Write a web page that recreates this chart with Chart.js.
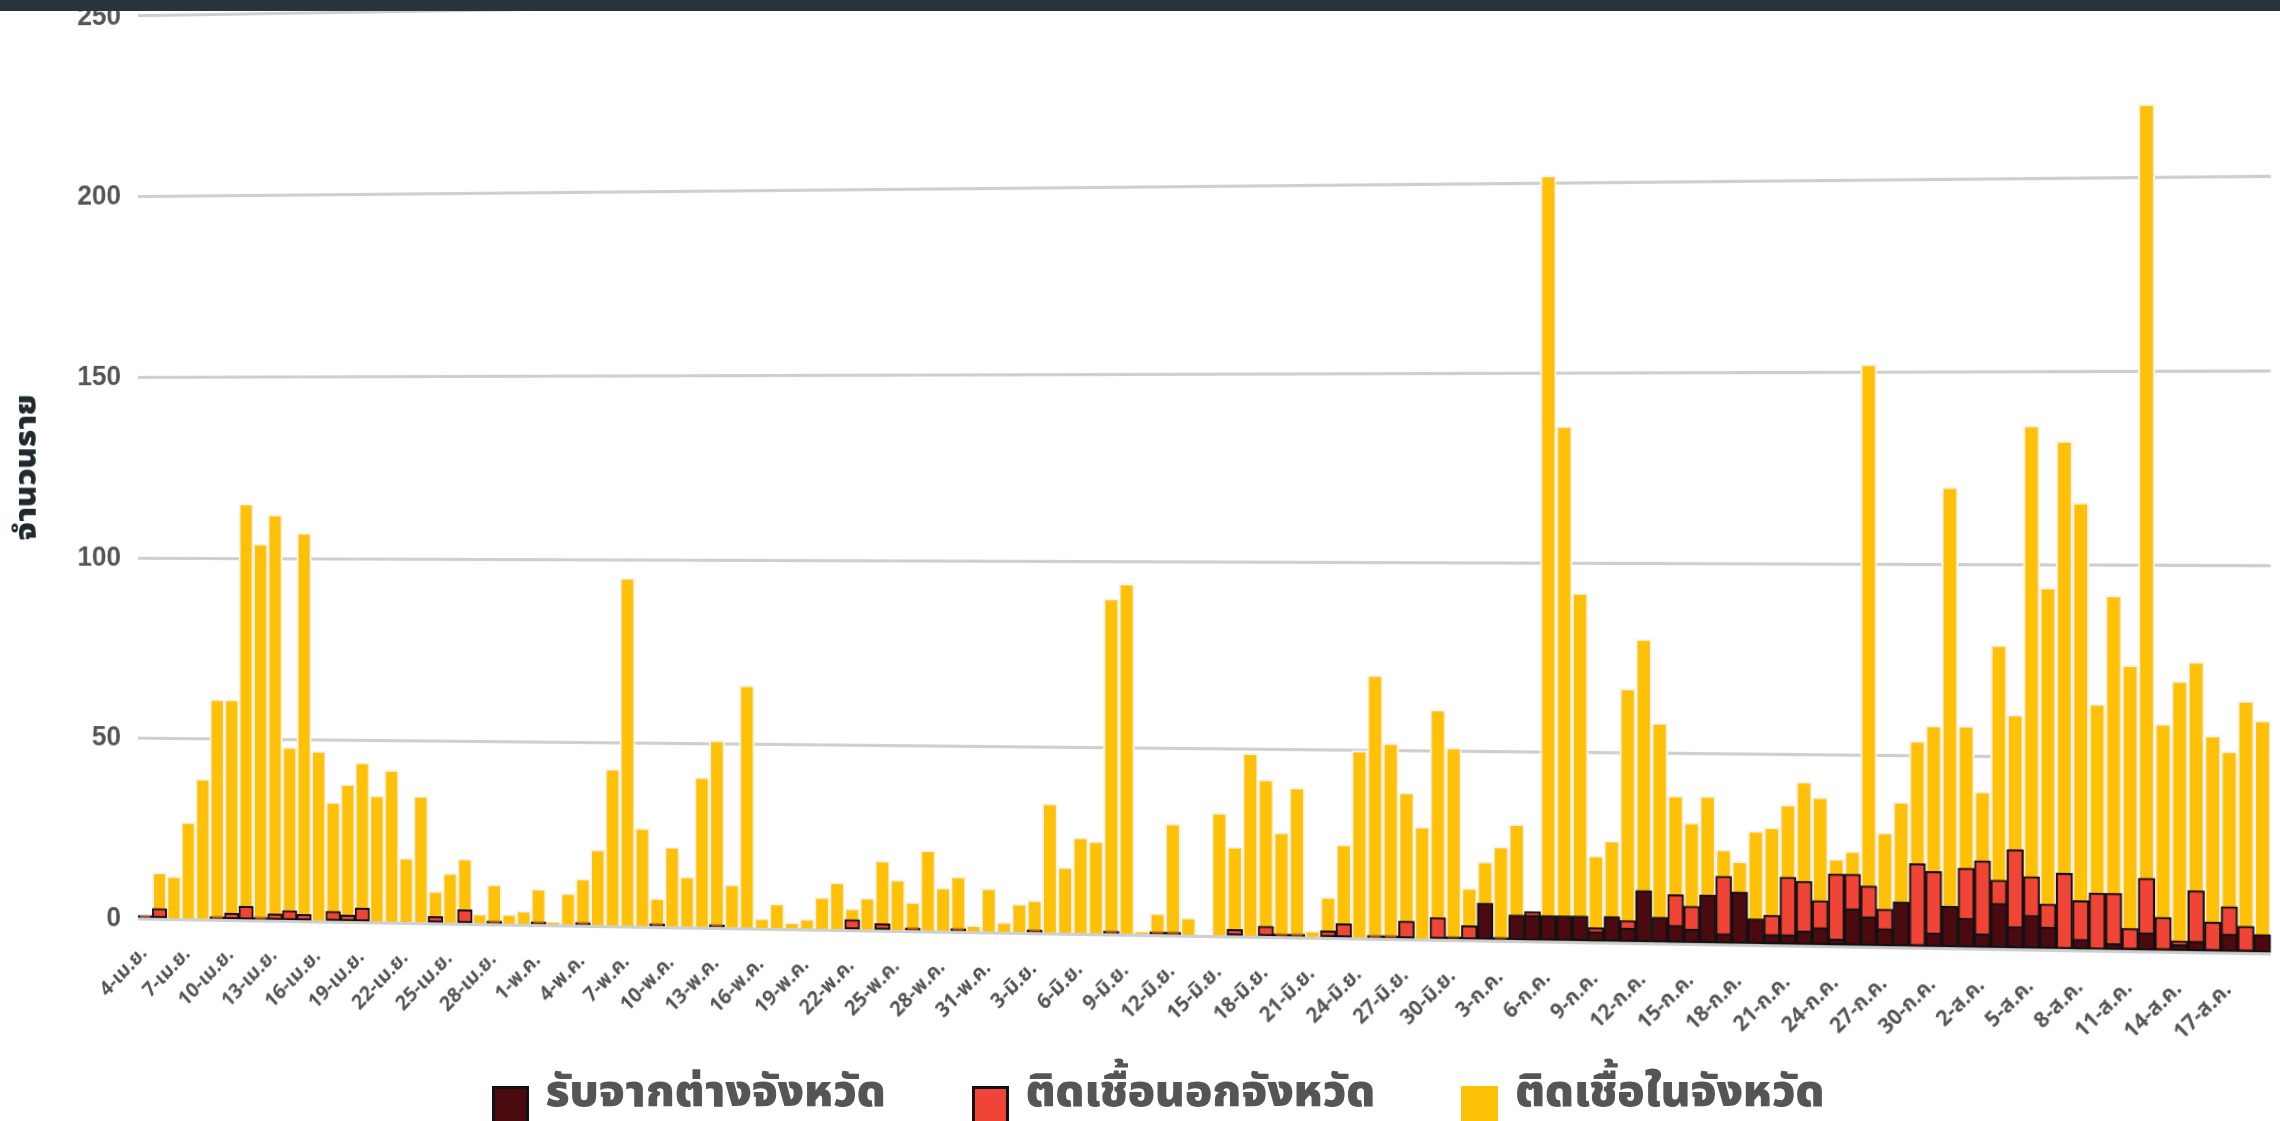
<!DOCTYPE html>
<html>
<head>
<meta charset="utf-8">
<script src="https://cdn.jsdelivr.net/npm/chart.js@4.4.1/dist/chart.umd.min.js"></script>
<style>
  html, body { margin: 0; padding: 0; background: #ffffff; width: 2280px; height: 1121px; overflow: hidden; }
  #topbar { position: absolute; left: 0; top: 0; width: 2280px; height: 11px; background: #29343b; z-index: 10; }
  #wrap { position: absolute; left: 0; top: 0; width: 2280px; height: 1030px; transform-origin: 0 0; }
  #legend { position: absolute; left: 36px; top: 1058px; width: 2244px; display: flex; justify-content: center; align-items: flex-start; gap: 86px;
            font-family: 'Noto Sans Thai', 'Noto Sans Thai UI', 'Noto Sans', 'DejaVu Sans', sans-serif; font-weight: 900; font-size: 45px; color: #555555; }
  .item { display: flex; align-items: flex-start; }
  .box { width: 37px; height: 42px; margin-top: 28px; margin-right: 17px; box-sizing: border-box; }
</style>
</head>
<body>
<div id="topbar"></div>
<div id="wrap"><canvas id="c" width="2280" height="1030"></canvas></div>
<div id="legend"></div>
<script>
// ---- data ----
const monthSpans = [['เม.ย.', 4, 30], ['พ.ค.', 1, 31], ['มิ.ย.', 1, 30], ['ก.ค.', 1, 31], ['ส.ค.', 1, 19]];
const categories = [];
monthSpans.forEach(([m, a, b]) => { for (let d = a; d <= b; d++) categories.push(d + '-' + m); });

const seriesNames = ['รับจากต่างจังหวัด', 'ติดเชื้อนอกจังหวัด', 'ติดเชื้อในจังหวัด'];

// รับจากต่างจังหวัด (dark)
const fromOtherProvince = [
  0,0,0,0,0,0,0,0,0,0, 0,0,0,0,0,0,0,0,0,0,
  0,0,0,0,0,0,0,0,0,0, 0,0,0,0,0,0,0,0,0,0,
  0,0,0,0,0,0,0,0,0,0, 0,0,0,0,0,0,0,0,0,0,
  0,0,0,0,0,0,0,0,0,0, 0,0,0,0,0,0,0,0,0,0,
  0,0,0,0,0,0,0,1,0,10, 1,7,7,7,7,7,3,7,4,14,
  7,5,4,13,3,14,7,3,3,4, 5,2,10,8,5,12,1,4,11,8,
  4,12,6,9,6,0,3,0,2,1, 5,1,2,3,1,5,1,5
];
// ติดเชื้อนอกจังหวัด (red)
const infectedOutside = [
  1,3,0,0,0,1,2,4,1,2, 3,2,0,3,2,4,0,0,0,0,
  2,0,4,0,1,0,0,1,0,0, 1,0,0,0,0,1,0,0,0,1,
  0,0,0,0,0,0,0,0,3,0, 2,0,1,0,0,1,0,0,0,0,
  1,0,0,0,0,1,0,0,1,1, 0,0,0,2,0,3,1,1,0,2,
  4,0,1,1,5,0,6,0,4,0, 0,0,8,0,0,0,4,0,6,0,
  0,13,10,0,18,0,0,8,18,17, 12,19,19,16,10,0,22,20,0,21,
  23,18,26,19,12,20,13,15,15,6, 19,9,3,16,8,12,7,0
];
// ติดเชื้อในจังหวัด (yellow)
const infectedInside = [
  1,13,12,27,39,61,61,115,104,112, 48,107,47,33,38,44,35,42,18,35,
  9,14,18,3,11,3,4,10,1,9, 13,21,43,95,27,8,22,14,41,51,
  12,66,3,7,2,3,9,13,6,9, 19,14,8,22,12,15,2,12,3,8,
  9,35,18,26,25,90,94,1,6,30, 5,0,33,24,49,42,28,40,2,11,
  25,50,70,52,39,30,61,51,14,21, 25,31,8,202,136,92,23,27,67,80,
  58,39,32,39,25,22,30,31,37,43, 39,23,25,152,30,38,54,58,120,58,
  41,79,61,136,94,132,116,64,92,74, 219,59,70,75,56,52,65,60
];
const yTicks = [0, 50, 100, 150, 200, 250];

const colors = ['#4b0a10', '#ef4436', '#ffc107'];
const borders = ['#111111', '#111111', '#f4f4f4'];

const thaiFont = "'Noto Sans Thai', 'Noto Sans Thai UI', 'Noto Sans', 'DejaVu Sans', sans-serif";

const chart = new Chart(document.getElementById('c'), {
  type: 'bar',
  data: {
    labels: categories,
    datasets: [
      { label: seriesNames[0], data: fromOtherProvince, backgroundColor: colors[0], borderColor: borders[0], borderWidth: 2, borderSkipped: false, barPercentage: 1, categoryPercentage: 1 },
      { label: seriesNames[1], data: infectedOutside, backgroundColor: colors[1], borderColor: borders[1], borderWidth: 2, borderSkipped: false, barPercentage: 1, categoryPercentage: 1 },
      { label: seriesNames[2], data: infectedInside, backgroundColor: colors[2], borderColor: borders[2], borderWidth: 2, borderSkipped: 'bottom', barPercentage: 1, categoryPercentage: 1 }
    ]
  },
  options: {
    responsive: false,
    animation: false,
    layout: { padding: { left: 14, top: 2, right: 9, bottom: 0 } },
    plugins: { legend: { display: false }, tooltip: { enabled: false } },
    scales: {
      x: {
        stacked: true,
        grid: { display: false },
        border: { display: false },
        ticks: {
          autoSkip: false, maxRotation: 45, minRotation: 45, padding: 15,
          color: '#555555', font: { family: thaiFont, size: 20, weight: 'bold' },
          callback: function (v, i) { return i % 3 === 0 ? categories[i] : ''; }
        }
      },
      y: {
        stacked: false, min: yTicks[0], max: yTicks[yTicks.length - 1],
        afterBuildTicks: (s) => { s.ticks = yTicks.map(v => ({ value: v })); },
        grid: { color: '#cfcfcf', lineWidth: 3, drawTicks: false },
        border: { display: false },
        ticks: { padding: 18, color: '#555555', font: { family: "'Liberation Sans', Arial, sans-serif", size: 28, weight: 'bold' } },
        title: { display: true, text: 'จำนวนราย', color: '#1f2a30', font: { family: thaiFont, size: 32, weight: 900 }, padding: { top: 0, bottom: 14 } }
      }
    }
  }
});

// ---- perspective (homography) so the plot area lands where the reference shows it ----
function solve(A, b) {
  const n = b.length;
  for (let i = 0; i < n; i++) {
    let p = i;
    for (let r = i + 1; r < n; r++) if (Math.abs(A[r][i]) > Math.abs(A[p][i])) p = r;
    [A[i], A[p]] = [A[p], A[i]]; [b[i], b[p]] = [b[p], b[i]];
    for (let r = i + 1; r < n; r++) {
      const f = A[r][i] / A[i][i];
      for (let c = i; c < n; c++) A[r][c] -= f * A[i][c];
      b[r] -= f * b[i];
    }
  }
  const x = new Array(n).fill(0);
  for (let i = n - 1; i >= 0; i--) {
    let s = b[i];
    for (let c = i + 1; c < n; c++) s -= A[i][c] * x[c];
    x[i] = s / A[i][i];
  }
  return x;
}
function homography(src, dst) {
  const A = [], b = [];
  for (let k = 0; k < 4; k++) {
    const [x, y] = src[k], [u, v] = dst[k];
    A.push([x, y, 1, 0, 0, 0, -x * u, -y * u]); b.push(u);
    A.push([0, 0, 0, x, y, 1, -x * v, -y * v]); b.push(v);
  }
  return solve(A, b);
}
const ca = chart.chartArea;
const src = [[ca.left, ca.top], [ca.right, ca.top], [ca.right, ca.bottom], [ca.left, ca.bottom]];
const dst = [[138, 16], [2271, -18], [2271, 954], [138, 919]];
const h = homography(src, dst);
document.getElementById('wrap').style.transform =
  `matrix3d(${h[0]},${h[3]},0,${h[6]},${h[1]},${h[4]},0,${h[7]},0,0,1,0,${h[2]},${h[5]},0,1)`;

// ---- legend (kept flat, as in the reference) ----
const legend = document.getElementById('legend');
chart.data.datasets.forEach((ds, i) => {
  const item = document.createElement('div'); item.className = 'item';
  const box = document.createElement('div'); box.className = 'box';
  box.style.background = ds.backgroundColor;
  box.style.border = i === 2 ? '0' : '3px solid #111';
  const t = document.createElement('span'); t.textContent = ds.label;
  item.appendChild(box); item.appendChild(t); legend.appendChild(item);
});
</script>
</body>
</html>
